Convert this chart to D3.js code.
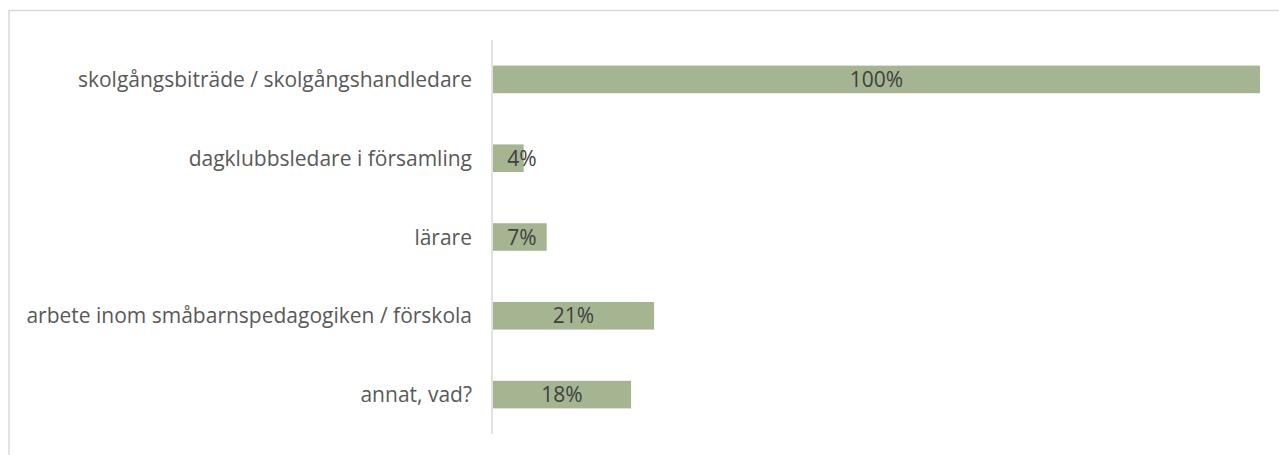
<!DOCTYPE html>
<html>
<head>
<meta charset="utf-8">
<script src="https://cdn.jsdelivr.net/npm/d3@7"></script>
<style>
  html, body { margin: 0; padding: 0; background: #fff; overflow: hidden; }
</style>
</head>
<body>
<div id="chart"></div>
<script>
const categories = [
  "skolgångsbiträde / skolgångshandledare",
  "dagklubbsledare i församling",
  "lärare",
  "arbete inom småbarnspedagogiken / förskola",
  "annat, vad?"
];
const values = [100, 4, 7, 21, 18];
const valueLabels = ["100%", "4%", "7%", "21%", "18%"];

const width = 1279;
const height = 455;

const barColor = "#A5B592";
const labelColor = "#595959";
const dataLabelColor = "#404040";
const lineColor = "#D9D9D9";

const svg = d3.select("#chart")
  .append("svg")
  .attr("width", width)
  .attr("height", height)
  .style("display", "block")
  .style("font-family", "'Open Sans', 'Noto Sans', sans-serif");

// chart border (right and bottom edges fall outside the picture)
svg.append("rect")
  .attr("x", 9)
  .attr("y", 10.5)
  .attr("width", width + 20)
  .attr("height", height + 20)
  .attr("fill", "#fff")
  .attr("stroke", lineColor)
  .attr("stroke-width", 1.5);

const x = d3.scaleLinear().domain([0, 100]).range([493, 1260]);
const y = d3.scaleBand()
  .domain(categories)
  .range([40, 434])
  .paddingInner(0.65)
  .paddingOuter(0.325);

svg.selectAll("rect.bar")
  .data(values)
  .join("rect")
  .attr("class", "bar")
  .attr("x", x(0))
  .attr("y", (d, i) => y(categories[i]))
  .attr("width", d => x(d) - x(0))
  .attr("height", y.bandwidth())
  .attr("fill", barColor);

// axis line
svg.append("line")
  .attr("x1", 492)
  .attr("x2", 492)
  .attr("y1", 40)
  .attr("y2", 434)
  .attr("stroke", lineColor)
  .attr("stroke-width", 1.5);

// category labels
svg.selectAll("text.cat")
  .data(categories)
  .join("text")
  .attr("class", "cat")
  .attr("x", 472)
  .attr("y", d => y(d) + y.bandwidth() / 2)
  .attr("dy", "0.36em")
  .attr("text-anchor", "end")
  .attr("font-size", "21px")
  .attr("fill", labelColor)
  .text(d => d);

// value labels
svg.selectAll("text.val")
  .data(values)
  .join("text")
  .attr("class", "val")
  .attr("x", d => Math.max((x(0) + x(d)) / 2, x(0) + 29))
  .attr("y", (d, i) => y(categories[i]) + y.bandwidth() / 2)
  .attr("dy", "0.36em")
  .attr("text-anchor", "middle")
  .attr("font-size", "21px")
  .attr("fill", dataLabelColor)
  .text((d, i) => valueLabels[i]);
</script>
</body>
</html>
